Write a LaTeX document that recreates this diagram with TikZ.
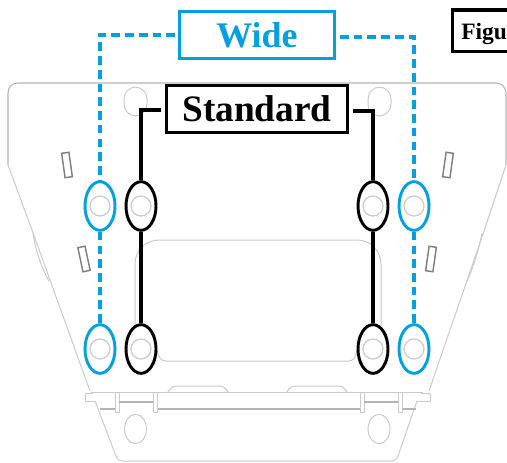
\documentclass[tikz,border=0pt]{standalone}
\usepackage{fontspec}
\setmainfont{Liberation Serif}
\usetikzlibrary{shapes.geometric}
\definecolor{wideblue}{HTML}{00A0E0}
\definecolor{plateline}{HTML}{CACACA}
\definecolor{edgeline}{HTML}{B4B4B4}
\definecolor{slotline}{HTML}{808080}
\tikzset{
  plate/.style={draw=plateline,line width=0.75pt,line join=round},
  edge line/.style={draw=edgeline,line width=0.8pt,line join=round},
  slotmark/.style={draw=slotline,line width=1.1pt,rotate=#1,minimum width=5.5pt,minimum height=18.5pt,inner sep=0pt,rectangle},
  bolt/.style={circle,draw=plateline,line width=0.9pt,minimum size=15pt,inner sep=0pt},
  ringwide/.style={ellipse,draw=wideblue,line width=2.2pt,minimum width=22.5pt,minimum height=36.5pt,inner sep=0pt},
  ringstd/.style={ellipse,draw=black,line width=2.2pt,minimum width=22.5pt,minimum height=36.5pt,inner sep=0pt},
  widelink/.style={draw=wideblue,line width=2.4pt,dash pattern=on 6.5pt off 3.8pt},
  stdlink/.style={draw=black,line width=2.4pt},
  label box/.style={rectangle,fill=white,line width=2.7pt,inner sep=0pt,font=\bfseries},
}
\begin{document}
\begin{tikzpicture}[x=0.75pt,y=-0.75pt]
\useasboundingbox (0,0) rectangle (507,462);
% plate outline
\draw[edge line] (8,165) -- (8,93) .. controls (8,87) and (12,83) .. (18,83) -- (496,83) .. controls (501,83) and (506,87) .. (506,93) -- (506,165);
\draw[plate] (8,165) -- (32,230) -- (90,391);
\draw[plate] (506,165) -- (484,231) -- (429,391);
\draw[plate] (95,401) -- (116,456) .. controls (117,459) and (119,461) .. (122,461) -- (392,461) .. controls (395,461) and (397,459) .. (398,456) -- (417,401);
\draw[plate] (33,233) .. controls (35,250) and (43,271) .. (49,281);
\draw[plate] (482,233) .. controls (479,250) and (472,271) .. (467,281);
% top and bottom holes
\draw[plate,rounded corners=9pt] (124,87) rectangle (147,116);
\draw[plate,rounded corners=9pt] (368,87) rectangle (391,116);
\draw[plate] (135.5,429) ellipse (8.2pt and 11pt);
\draw[plate] (379,429) ellipse (8.2pt and 11pt);
% slots
\node[slotmark=8] (s1) at (67,165) {};
\node[slotmark=-8] (s2) at (448,165) {};
\node[slotmark=12] (s3) at (84,259) {};
\node[slotmark=-8] (s4) at (431,259) {};
% centre window
\draw[plate,rounded corners=18pt] (135,326) -- (135,240) -- (381,240) -- (381,326);
\draw[plate] (157,350) .. controls (158,357) and (161,361) .. (166,361) -- (349,361) .. controls (353,361) and (356,357) .. (357,350);
% lower structure
\draw[plate] (91,392) -- (423,392);
\draw[edge line] (100,409) -- (115,409);
\draw[edge line] (157,409) -- (360,409);
\draw[edge line] (402,409) -- (416,409);
\draw[plate,rounded corners=3pt] (168,392) -- (172,386) -- (224,386) -- (228,392);
\draw[plate,rounded corners=3pt] (287,392) -- (291,386) -- (343,386) -- (347,392);
\foreach \xa/\xb in {115/119,153/157,360/364,398/402}{\draw[plate] (\xa,392) rectangle (\xb,412);}
\draw[edge line,line width=1.4pt] (119,402) -- (153,402);
\draw[edge line,line width=1.4pt] (364,402) -- (398,402);
\draw[plate] (93,393) -- (85,393) -- (85,401) -- (95,401);
\draw[plate] (421,393) -- (430,393) -- (430,401) -- (417,401);
% bolts
\foreach \n/\px/\py in {a/100/206,b/141/206,c/373/206,d/414/206,e/100/349,f/141/349,g/373/349,h/414/349}{\node[bolt] (bolt\n) at (\px,\py) {};}
% rings
\node[ringwide] (wtl) at (100,206) {};
\node[ringstd] (stl) at (141,206) {};
\node[ringstd] (str) at (373,206) {};
\node[ringwide] (wtr) at (414,206) {};
\node[ringwide] (wbl) at (100,349) {};
\node[ringstd] (sbl) at (141,349) {};
\node[ringstd] (sbr) at (373,349) {};
\node[ringwide] (wbr) at (414,349) {};
% labels
\node[label box,draw=wideblue,text=wideblue,minimum width=116.5pt,minimum height=35.5pt,font=\bfseries\fontsize{27}{27}\selectfont] (wide) at (257,35) {Wide};
\node[label box,draw=black,minimum width=135.5pt,minimum height=35.5pt,font=\bfseries\fontsize{28}{28}\selectfont] (standard) at (257,109) {Standard};
\node[anchor=base west,inner sep=0pt,font=\bfseries\fontsize{17.6}{17.6}\selectfont] (fig) at (461,39) {Figu};
\coordinate (figtl) at (507,10);
\coordinate (figbl) at (507,51.5);
\draw[black,line width=2.7pt] (figtl) -- (452.5,10) -- (452.5,51.5) -- (figbl);
% connectors
\coordinate (wl) at (175,35);
\coordinate (wr) at (340,37);
\coordinate (sl) at (161,110);
\coordinate (sr) at (353,111);
\draw[widelink] (wl) -| (wtl.north);
\draw[widelink] (wr) -| (wtr.north);
\draw[widelink] (wtl.south) -- (wbl.north);
\draw[widelink] (wtr.south) -- (wbr.north);
\draw[stdlink] (sl) -| (stl.north);
\draw[stdlink] (sr) -| (str.north);
\draw[stdlink] (stl.south) -- (sbl.north);
\draw[stdlink] (str.south) -- (sbr.north);
\end{tikzpicture}
\end{document}
